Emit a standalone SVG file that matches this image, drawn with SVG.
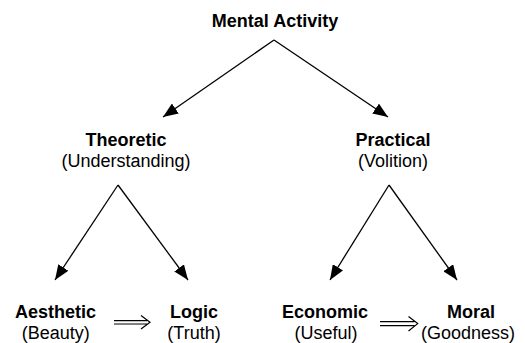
<svg xmlns="http://www.w3.org/2000/svg" width="525" height="343" viewBox="0 0 525 343">
<style>
text{font-family:"Liberation Sans",Arial,Helvetica,sans-serif;font-size:18px;fill:#000;text-anchor:middle}
.b{font-weight:bold}
.ln{stroke:#000;stroke-width:1.3;fill:none}
.dbl{stroke:#000;stroke-width:1.2;fill:none}
</style>
<defs>
<marker id="ah" markerUnits="userSpaceOnUse" markerWidth="16" markerHeight="12" refX="15" refY="6" orient="auto">
<path d="M0,0 L15,6 L0,12 Z" fill="#000"/>
</marker>
</defs>
<rect width="525" height="343" fill="#fff"/>
<g id="connectors">
<line class="ln" x1="274" y1="40" x2="163" y2="117" marker-end="url(#ah)"/>
<line class="ln" x1="274" y1="40" x2="388" y2="117" marker-end="url(#ah)"/>
<line class="ln" x1="118" y1="185" x2="55" y2="280" marker-end="url(#ah)"/>
<line class="ln" x1="118" y1="185" x2="188" y2="280" marker-end="url(#ah)"/>
<line class="ln" x1="389" y1="185" x2="330" y2="280" marker-end="url(#ah)"/>
<line class="ln" x1="389" y1="185" x2="457" y2="280" marker-end="url(#ah)"/>
<g id="implies1">
<path class="dbl" d="M114,320.6 H147 M114,324 H147 M141,315.5 L150,322.3 L141,329"/>
</g>
<g id="implies2">
<path class="dbl" d="M380,321.6 H414.5 M380,325.6 H414.5 M408.5,316.5 L417.7,323.6 L408.5,331"/>
</g>
</g>
<g id="mental"><text class="b" x="275" y="27">Mental Activity</text></g>
<g id="theoretic"><text class="b" x="126" y="146">Theoretic</text><text x="126" y="167">(Understanding)</text></g>
<g id="practical"><text class="b" x="393" y="146">Practical</text><text x="393" y="167">(Volition)</text></g>
<g id="aesthetic"><text class="b" x="55.5" y="318">Aesthetic</text><text x="55.7" y="339">(Beauty)</text></g>
<g id="logic"><text class="b" x="194" y="318">Logic</text><text x="194" y="339">(Truth)</text></g>
<g id="economic"><text class="b" x="325" y="318">Economic</text><text x="326" y="339">(Useful)</text></g>
<g id="moral"><text class="b" x="471" y="318">Moral</text><text x="468" y="339">(Goodness)</text></g>
</svg>
